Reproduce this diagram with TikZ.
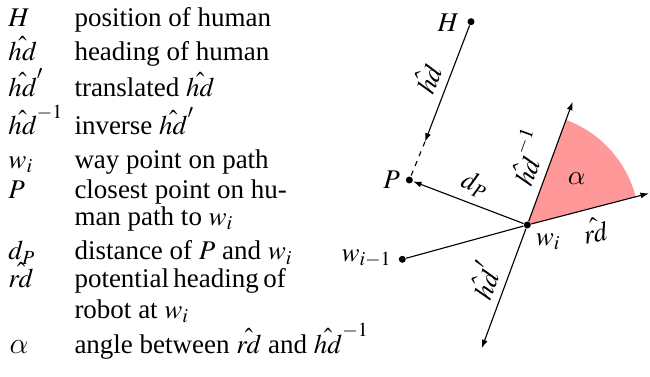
\documentclass[tikz,border=0pt]{standalone}
\usepackage{mathptmx}
\usepackage[no-math]{fontspec}
\setmainfont{Liberation Serif}
\usetikzlibrary{arrows.meta}
\DeclareSymbolFont{lmletters}{OML}{cmm}{m}{it}
\DeclareMathSymbol{\alpha}{\mathord}{lmletters}{"0B}
\definecolor{wedgePink}{RGB}{255,153,153}

\begin{document}
\begin{tikzpicture}[
			x=0.4pt, y=-0.4pt,
			font=\fontsize{10.8}{13}\selectfont,
			legend/.style={
				anchor=base west,
				inner sep=0pt
			},
			waypoint/.style={
				circle,
				fill=black,
				inner sep=0pt,
				minimum size=2.8pt
			},
			heading/.style={
				-{Latex[length=3.4pt,width=2.4pt]},
				line width=0.45pt
			},
			label/.style={
				inner sep=1pt
			}
			]
			
			\useasboundingbox (0,0) rectangle (650,377);
			
			% Legend symbols
			\node[legend] (sH)   at (8,26.7)  {$H$};
			\node[legend] (sHd)  at (8,61)    {$\hat{hd}$};
			\node[legend] (sHdt) at (8,96.7)  {$\hat{hd}'$};
			\node[legend] (sHdi) at (8,135)   {$\hat{hd}^{-1}$};
			\node[legend] (sW)   at (8,168.3) {$w_i$};
			\node[legend] (sP)   at (8,198.3) {$P$};
			\node[legend] (sD)   at (8,260)   {$d_P$};
			\node[legend] (sRd)  at (8,287.3) {$\hat{rd}$};
			\node[legend] (sA)   at (9,353)   {\large$\alpha$};
			
			% Legend texts
			\node[legend] (tH)   at (74,26.7)  {position of human};
			\node[legend] (tHd)  at (74,61)    {heading of human};
			\node[legend] (tHdt) at (74,96.7)  {translated $\hat{hd}$};
			\node[legend] (tHdi) at (74,135)   {inverse $\hat{hd}'$};
			\node[legend] (tW)   at (74,168.3) {way point on path};
			\node[legend] (tP)   at (74,198.3) {closest point on hu-};
			\node[legend] (tP2)  at (74,225.7) {man path to $w_i$};
			\node[legend] (tD)   at (74,260)   {distance of $P$ and $w_i$};
			\node[legend] (tRd)  at (74,287.3) {\makebox[77.2pt][s]{potential heading of}};
			\node[legend] (tRd2) at (74,318.3) {robot at $w_i$};
			\node[legend] (tA)   at (74,353)   {angle between $\hat{rd}$ and $\hat{hd}^{-1}$};
			
			% Angle wedge
			\coordinate (wc) at (527.3,225);
			\fill[wedgePink] (wc) -- ++(-14.7:112) arc[start angle=-14.7, end angle=-69.8, radius=112] -- cycle;
			
			% Points
			\node[waypoint] (H)  at (471,21.7)    {};
			\node[waypoint] (P)  at (409.3,180)   {};
			\node[waypoint] (W)  at (527.3,225)   {};
			\node[waypoint] (Wp) at (402.3,259.3) {};
			
			% Arrow ends
			\coordinate (hdTip)  at (425,141.7);
			\coordinate (hdiEnd) at (572.7,101.7);
			\coordinate (hdtEnd) at (481.7,348.3);
			\coordinate (rdEnd)  at (649,193.3);
			
			% Connectors
			\draw[heading] (H) -- (hdTip);
			\draw[line width=0.45pt, dash pattern=on 2pt off 2.2pt] (hdTip) -- (P);
			\draw[heading] (W) -- (P);
			\draw[line width=0.45pt] (Wp) -- (W);
			\draw[heading] (W) -- (hdiEnd);
			\draw[heading] (W) -- (hdtEnd);
			\draw[heading] (W) -- (rdEnd);
			
			% Point labels
			\node[label] at (448.3,23)   {$H$};
			\node[label] at (391.7,180)  {$P$};
			\node[label] at (548.3,241.7) {$w_i$};
			\node[label] at (366.7,258.3) {$w_{i-1}$};
			
			% Heading labels
			\node[label, rotate=68.7]  at (426.7,78.3)  {$\hat{hd}$};
			\node[label, rotate=69.8]  at (526.7,156.7) {$\hat{hd}^{-1}$};
			\node[label, rotate=69.7]  at (483.3,280)   {$\hat{hd}'$};
			\node[label, rotate=-20.9] at (475,185)     {$d_P$};
			\node[label, rotate=12]    at (595,230)     {$\hat{rd}$};
			\node[label] at (576.7,178.3) {$\alpha$};
			
		\end{tikzpicture}
\end{document}
